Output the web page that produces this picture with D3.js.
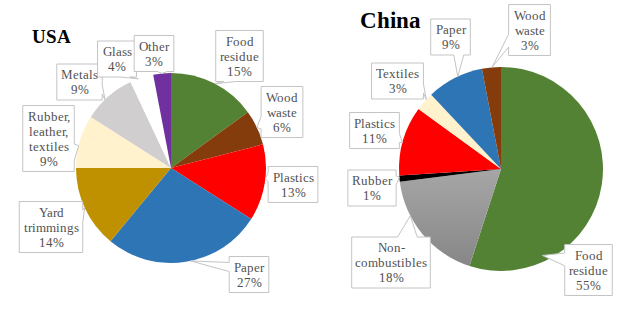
<!DOCTYPE html>
<html>
<head>
<meta charset="utf-8">
<script src="https://cdn.jsdelivr.net/npm/d3@7"></script>
<style>
  @font-face {
    font-family: "ChartSerif";
    src: local("Liberation Serif"), local("LiberationSerif"), local("LiberationSerif-Regular"),
         local("Times New Roman"), local("DejaVu Serif");
    font-weight: normal;
  }
  @font-face {
    font-family: "ChartSerif";
    src: local("Liberation Serif Bold"), local("LiberationSerif-Bold"),
         local("Times New Roman Bold"), local("DejaVu Serif Bold");
    font-weight: bold;
  }
  body { margin: 0; }
  svg text { font-family: "ChartSerif", "Liberation Serif", "Times New Roman", serif; }
</style>
</head>
<body>
<svg id="chart" width="619" height="311"></svg>
<script>
// Municipal solid waste composition, USA vs China
const usaCategories = ["Food\nresidue", "Wood\nwaste", "Plastics", "Paper", "Yard\ntrimmings",
                       "Rubber,\nleather,\ntextiles", "Metals", "Glass", "Other"];
const usaValues = [15, 6, 13, 27, 14, 9, 9, 4, 3];
const usaColors = ["#548235", "#843c0c", "#ff0000", "#2e75b6", "#bf9000",
                   "#fff2cc", "#d0cece", "#ffffff", "#7030a0"];

const chinaCategories = ["Food\nresidue", "Non-\ncombustibles", "Rubber", "Plastics",
                         "Textiles", "Paper", "Wood\nwaste"];
const chinaValues = [55, 18, 1, 11, 3, 9, 3];
const chinaColors = ["#548235", "url(#grayFill)", "#000000", "#ff0000",
                     "#fff2cc", "#2e75b6", "#843c0c"];

// Callout layout: box centre and where along the slice the pointer lands
const usaCallouts = [
  { cx: 239.5, cy: 56,    at: 0.51, rf: 1.0 },
  { cx: 282,   cy: 112,   at: 0.50, rf: 1.0 },
  { cx: 293,   cy: 184.5, at: 0.45, rf: 1.0 },
  { cx: 249,   cy: 274.5, at: 0.47, rf: 1.0 },
  { cx: 51,    cy: 227,   at: 0.51, rf: 1.0 },
  { cx: 48.5,  cy: 138.5, at: 0.42, rf: 1.0 },
  { cx: 79.5,  cy: 82,    at: 0.42, rf: 1.0 },
  { cx: 117,   cy: 59,    at: 0.35, rf: 1.0 },
  { cx: 154,   cy: 53.5,  at: 0.50, rf: 1.0 }
];
const chinaCallouts = [
  { cx: 588.5, cy: 270,   at: 0.78, rf: 0.94 },
  { cx: 391,   cy: 262.5, at: 0.69, rf: 1.0 },
  { cx: 372,   cy: 188,   at: 0.75, rf: 1.0 },
  { cx: 374.5, cy: 130.5, at: 0.47, rf: 1.0 },
  { cx: 397.5, cy: 81,    at: 0.64, rf: 1.0 },
  { cx: 450.5, cy: 37,    at: 0.56, rf: 1.0 },
  { cx: 529.5, cy: 30,    at: 0.53, rf: 1.0 }
];

const LINE_H = 15;
const FONT_SIZE = 13;

// Approximate Times-style advance widths (em) for sizing the callout boxes
const GLYPH_W = {
  "F":0.556,"W":0.944,"P":0.556,"Y":0.722,"R":0.667,"M":0.889,"G":0.722,"O":0.722,"T":0.611,"N":0.722,
  "a":0.444,"b":0.5,"c":0.444,"d":0.5,"e":0.444,"g":0.5,"h":0.5,"i":0.278,"l":0.278,"m":0.778,
  "n":0.5,"o":0.5,"p":0.5,"r":0.333,"s":0.389,"t":0.278,"u":0.5,"w":0.722,"x":0.5,"y":0.5,"f":0.333,
  "%":0.833,",":0.25,"-":0.333
};
function textWidth(s) {
  return d3.sum(Array.from(s), ch => GLYPH_W[ch] !== undefined ? GLYPH_W[ch] : 0.5) * FONT_SIZE;
}

// Rectangular callout with a wedge pointer (like an Office wedgeRectCallout)
function calloutPath(x, y, w, h, tx, ty) {
  const dx = tx - (x + w / 2), dy = ty - (y + h / 2);
  const dq = dx * h / w;
  const dz = Math.abs(dy) - Math.abs(dq);
  const p = [];
  if (dz > 0) {
    const g = dx > 0 ? [7, 10] : [2, 5];
    const x1 = x + w * g[0] / 12, x2 = x + w * g[1] / 12;
    if (dy < 0) {
      p.push([x, y], [x1, y], [tx, ty], [x2, y], [x + w, y], [x + w, y + h], [x, y + h]);
    } else {
      p.push([x, y], [x + w, y], [x + w, y + h], [x2, y + h], [tx, ty], [x1, y + h], [x, y + h]);
    }
  } else {
    const g = dy > 0 ? [7, 10] : [2, 5];
    const y1 = y + h * g[0] / 12, y2 = y + h * g[1] / 12;
    if (dx > 0) {
      p.push([x, y], [x + w, y], [x + w, y1], [tx, ty], [x + w, y2], [x + w, y + h], [x, y + h]);
    } else {
      p.push([x, y], [x + w, y], [x + w, y + h], [x, y + h], [x, y2], [tx, ty], [x, y1]);
    }
  }
  return "M" + p.map(d => d.join(",")).join("L") + "Z";
}

const svg = d3.select("#chart");
const defs = svg.append("defs");
const grad = defs.append("linearGradient")
  .attr("id", "grayFill").attr("x1", 0).attr("y1", 0).attr("x2", 0).attr("y2", 1);
grad.append("stop").attr("offset", "0%").attr("stop-color", "#a6a6a6");
grad.append("stop").attr("offset", "100%").attr("stop-color", "#878787");

function drawPie(opts) {
  const { cx, cy, r, categories, values, colors, callouts } = opts;
  const data = categories.map((c, i) => ({ name: c, value: values[i], color: colors[i] }));
  const pie = d3.pie().sort(null).value(d => d.value).startAngle(0).endAngle(2 * Math.PI);
  const arcs = pie(data);
  const arc = d3.arc().innerRadius(0).outerRadius(r);

  const g = svg.append("g").attr("transform", `translate(${cx},${cy})`);
  g.selectAll("path.slice")
    .data(arcs)
    .join("path")
    .attr("class", "slice")
    .attr("d", arc)
    .attr("fill", d => d.data.color);

  // callouts
  const lg = svg.append("g");
  arcs.forEach((a, i) => {
    const co = callouts[i];
    const ang = a.startAngle + (a.endAngle - a.startAngle) * co.at;
    const tx = cx + r * co.rf * Math.sin(ang);
    const ty = cy - r * co.rf * Math.cos(ang);
    const lines = a.data.name.split("\n").concat([d3.format(".0f")(a.data.value) + "%"]);
    const w = d3.max(lines, textWidth) + 10;
    const h = lines.length * LINE_H + 6;
    const bx = co.cx - w / 2, by = co.cy - h / 2;
    lg.append("path")
      .attr("d", calloutPath(bx, by, w, h, tx, ty))
      .attr("fill", "#ffffff")
      .attr("stroke", "#c4c4c4")
      .attr("stroke-width", 1);
    lines.forEach((ln, k) => {
      lg.append("text")
        .style("font-size", FONT_SIZE + "px")
        .attr("fill", "#505050")
        .attr("text-anchor", "middle")
        .attr("x", co.cx)
        .attr("y", co.cy + (k - (lines.length - 1) / 2) * LINE_H + 4.5)
        .text(ln);
    });
  });
}

drawPie({ cx: 171, cy: 168, r: 95, categories: usaCategories, values: usaValues,
          colors: usaColors, callouts: usaCallouts });
drawPie({ cx: 501, cy: 169, r: 102, categories: chinaCategories, values: chinaValues,
          colors: chinaColors, callouts: chinaCallouts });

// Titles
svg.append("text").attr("x", 32).attr("y", 43)
  .style("font-weight", "bold").style("font-size", "19px")
  .attr("fill", "#000").text("USA");
svg.append("text").attr("x", 360).attr("y", 28)
  .style("font-weight", "bold").style("font-size", "23px")
  .attr("fill", "#000").text("China");
</script>
</body>
</html>
